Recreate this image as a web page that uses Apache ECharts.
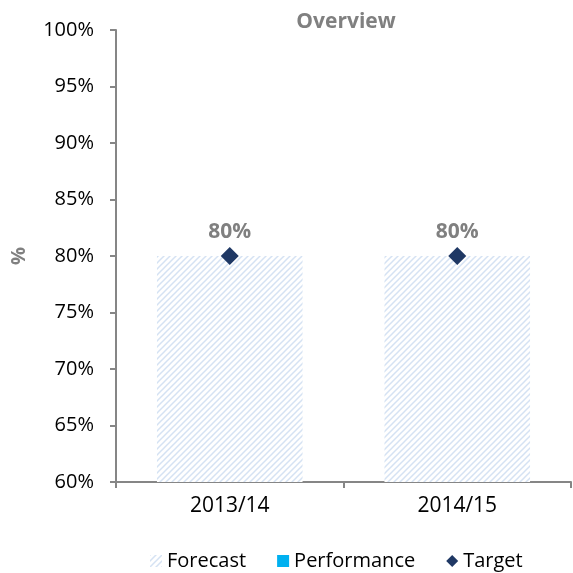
<!DOCTYPE html>
<html><head><meta charset="utf-8">
<script src="https://cdn.jsdelivr.net/npm/echarts@6/dist/echarts.min.js"></script>
<style>html,body{margin:0;padding:0;background:#fff}#c{width:573px;height:573px}</style>
</head><body><div id="c"></div>
<script>
const categories = ['2013/14', '2014/15'];
const forecast = [80, 80];
const performance = [null, null];
const target = [80, 80];
const yTicks = [60, 65, 70, 75, 80, 85, 90, 95, 100];

function hatch() {
  const c = document.createElement('canvas');
  c.width = 6; c.height = 6;
  const g = c.getContext('2d');
  g.fillStyle = '#ffffff'; g.fillRect(0, 0, 6, 6);
  g.strokeStyle = '#d5e2f3'; g.lineWidth = 1.5;
  g.beginPath();
  g.moveTo(-1, 7); g.lineTo(7, -1);
  g.moveTo(-4, 4); g.lineTo(4, -4);
  g.moveTo(2, 10); g.lineTo(10, 2);
  g.stroke();
  return c;
}
const pat = { image: hatch(), repeat: 'repeat' };
const font = 'Open Sans';
const chart = echarts.init(document.getElementById('c'));
chart.setOption({
  animation: false,
  title: { text: 'Overview', left: 341, top: 7, textAlign: 'center',
    textStyle: { fontFamily: font, fontSize: 21, fontWeight: 'bold', color: '#808080' } },
  grid: { left: 116, right: 2, top: 30, bottom: 91, containLabel: false, outerBoundsMode: 'none' },
  legend: { top: 546, left: 145, itemGap: 31, itemWidth: 12, itemHeight: 12,
    textStyle: { fontFamily: font, fontSize: 20, color: '#000' },
    data: [{ name: 'Forecast', icon: 'rect' }, { name: 'Performance', icon: 'rect' }, { name: 'Target', icon: 'diamond' }] },
  xAxis: { type: 'category', data: categories,
    axisLine: { lineStyle: { color: '#868686', width: 2 } },
    axisTick: { show: true, length: 6, lineStyle: { color: '#868686', width: 2 } },
    axisLabel: { fontFamily: font, fontSize: 21, color: '#000', margin: 14 } },
  yAxis: { type: 'value', min: yTicks[0], max: yTicks[yTicks.length - 1], interval: 5,
    name: '%', nameLocation: 'middle', nameGap: 87, nameRotate: 90,
    nameTextStyle: { fontFamily: font, fontSize: 20, fontWeight: 'bold', color: '#808080' },
    splitLine: { show: false },
    axisLine: { show: true, lineStyle: { color: '#868686', width: 2 } },
    axisTick: { show: true, length: 6, lineStyle: { color: '#868686', width: 2 } },
    axisLabel: { fontFamily: font, fontSize: 20, color: '#000', margin: 22, formatter: '{value}%' } },
  series: [
    { name: 'Forecast', type: 'bar', data: forecast, barWidth: '64%', barGap: '-100%',
      itemStyle: { color: pat } },
    { name: 'Performance', type: 'bar', data: performance, barWidth: '64%', barGap: '-100%',
      itemStyle: { color: '#00b0f0' } },
    { name: 'Target', type: 'scatter', data: target, symbol: 'diamond', symbolSize: [18, 18],
      itemStyle: { color: '#1f3864', opacity: 1 },
      label: { show: true, position: 'top', distance: 4, formatter: '{c}%',
        fontFamily: font, fontSize: 21, fontWeight: 'bold', color: '#808080' } }
  ]
});
</script></body></html>
